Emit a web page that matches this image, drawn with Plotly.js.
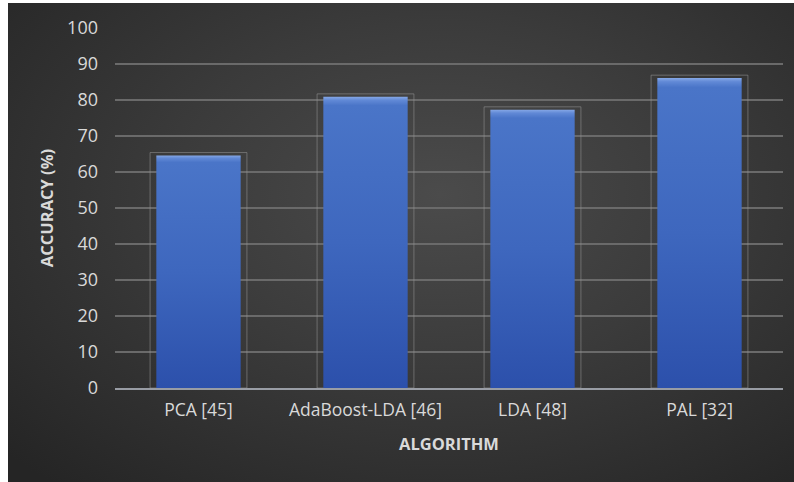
<!DOCTYPE html>
<html>
<head>
<meta charset="utf-8">
<script src="https://cdn.plot.ly/plotly-3.0.1.min.js"></script>
<style>
  html, body { margin: 0; padding: 0; background: #ffffff; }
  #wrap { position: relative; width: 794px; height: 482px; overflow: hidden; }
  #bg {
    position: absolute; left: 8px; top: 3px; right: 0; bottom: 0;
    background: radial-gradient(ellipse 75% 80% at 55% 40%, #4b4b4b 0%, #3b3b3b 45%, #252525 100%);
  }
  #chart { position: absolute; left: 0; top: 0; width: 794px; height: 482px; }
</style>
</head>
<body>
<div id="wrap">
  <div id="bg"></div>
  <div id="chart"></div>
</div>
<script>
// Classification accuracy of each algorithm
const algorithms = ['PCA [45]', 'AdaBoost-LDA [46]', 'LDA [48]', 'PAL [32]'];
const accuracy = [64.6, 80.9, 77.3, 86.1];
const yTicks = [0, 10, 20, 30, 40, 50, 60, 70, 80, 90, 100];

const font = "'Open Sans', 'Noto Sans', sans-serif";
const textColor = '#d9d9d9';

// Faint outline box standing slightly proud of each bar
const frameTrace = {
  type: 'bar',
  x: algorithms,
  y: accuracy.map(v => v + 0.8),
  width: 0.58,
  marker: { color: 'rgba(0,0,0,0)', line: { color: 'rgba(150,150,150,0.55)', width: 1 } },
  hoverinfo: 'skip'
};

const barTrace = {
  type: 'bar',
  x: algorithms,
  y: accuracy,
  width: 0.505,
  marker: { color: '#3b63bb', line: { width: 0 } }
};

const layout = {
  width: 794,
  height: 482,
  margin: { l: 115, r: 11, t: 28, b: 94 },
  paper_bgcolor: 'rgba(0,0,0,0)',
  plot_bgcolor: 'rgba(0,0,0,0)',
  barmode: 'overlay',
  showlegend: false,
  font: { family: font, color: textColor, size: 18 },
  xaxis: {
    type: 'category',
    showgrid: false,
    zeroline: false,
    showline: true,
    linecolor: 'rgba(170,175,185,0.85)',
    linewidth: 2,
    layer: 'above traces',
    ticks: '',
    tickfont: { family: font, size: 17.5, color: textColor },
    ticklabelstandoff: 5,
    title: { text: 'ALGORITHM', font: { family: font, size: 16.5, color: textColor, weight: 'bold' }, standoff: 18 }
  },
  yaxis: {
    range: [0, 100],
    tickvals: yTicks,
    ticktext: yTicks.map(String),
    showgrid: true,
    gridcolor: '#6a6a6a',
    gridwidth: 1.5,
    zeroline: false,
    showline: false,
    ticks: '',
    tickfont: { family: font, size: 18, color: textColor },
    ticklabelstandoff: 16,
    title: { text: 'ACCURACY (%)', font: { family: font, size: 16.5, color: textColor, weight: 'bold' }, standoff: 9 }
  }
};

Plotly.newPlot('chart', [frameTrace, barTrace], layout, { staticPlot: true, displayModeBar: false }).then(gd => {
  // Vertical glossy gradient on the bars
  const ns = 'http://www.w3.org/2000/svg';
  const svg = gd.querySelector('svg.main-svg');
  let defs = svg.querySelector('defs');
  if (!defs) { defs = document.createElementNS(ns, 'defs'); svg.insertBefore(defs, svg.firstChild); }
  const grad = document.createElementNS(ns, 'linearGradient');
  grad.setAttribute('id', 'barFill');
  grad.setAttribute('x1', '0'); grad.setAttribute('y1', '0');
  grad.setAttribute('x2', '0'); grad.setAttribute('y2', '1');
  [['0%', '#86a8e6'], ['1.2%', '#6189d6'], ['3%', '#4a75c8'], ['50%', '#3e67be'], ['100%', '#2c50ab']].forEach(([o, c]) => {
    const s = document.createElementNS(ns, 'stop');
    s.setAttribute('offset', o);
    s.setAttribute('stop-color', c);
    grad.appendChild(s);
  });
  defs.appendChild(grad);
  const groups = gd.querySelectorAll('g.trace.bars');
  if (groups[1]) {
    groups[1].querySelectorAll('path').forEach(p => { p.style.fill = 'url(#barFill)'; });
  }
});
</script>
</body>
</html>
